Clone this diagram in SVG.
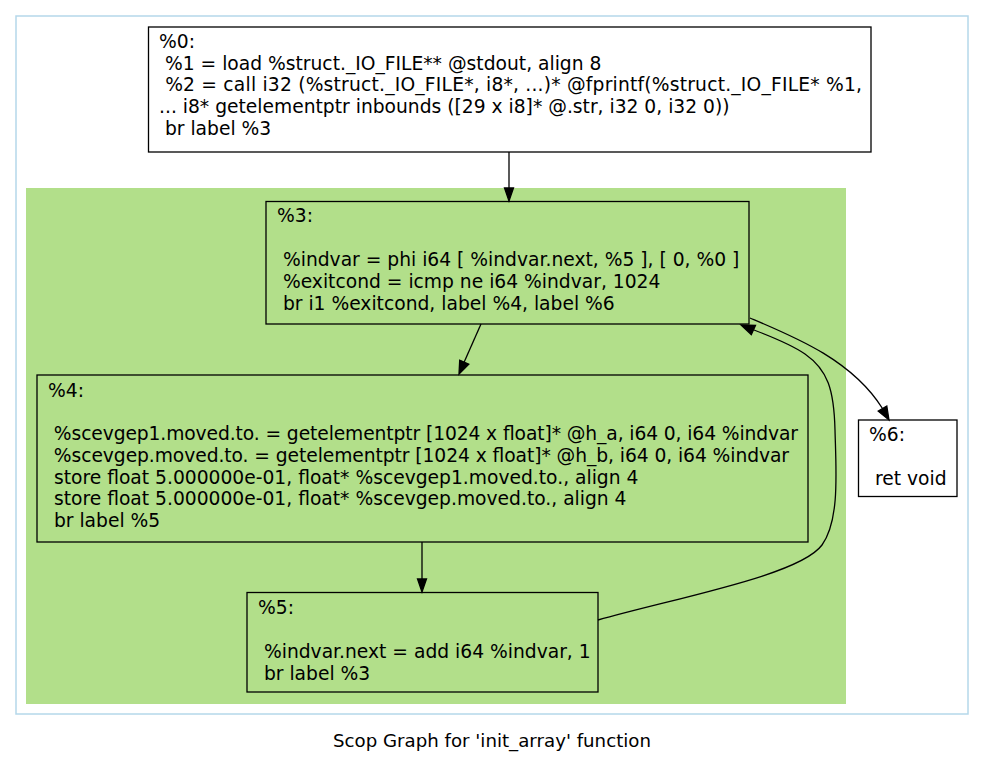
<svg xmlns="http://www.w3.org/2000/svg" width="984" height="764" viewBox="0 0 984 764">
<style>
  text { font-family: "DejaVu Sans", "Liberation Sans", sans-serif; font-size: 18.7px; fill: #000; white-space: pre; }
  text.title { font-size: 18.2px; }
  .box { stroke: #000; stroke-width: 1.3; }
  .white { fill: #fff; }
  .green { fill: #b2df8a; }
  .edge { fill: none; stroke: #000; stroke-width: 1.3; }
  .head { fill: #000; stroke: #000; stroke-width: 1.3; }
</style>
<rect x="0" y="0" width="984" height="764" fill="#fff"/>
<rect x="16" y="16" width="952" height="698" fill="#fff" stroke="#b5d8ea" stroke-width="1.5"/>
<rect id="cluster" x="26" y="188" width="820" height="516" fill="#b2df8a"/>

<g id="node0">
  <rect class="box white" x="148.5" y="27" width="722.5" height="125"/>
  <text x="159" y="48">%0:</text>
  <text x="159" y="70"> %1 = load %struct._IO_FILE** @stdout, align 8</text>
  <text x="159" y="91" textLength="703" lengthAdjust="spacing"> %2 = call i32 (%struct._IO_FILE*, i8*, ...)* @fprintf(%struct._IO_FILE* %1,</text>
  <text x="159" y="113">... i8* getelementptr inbounds ([29 x i8]* @.str, i32 0, i32 0))</text>
  <text x="159" y="135"> br label %3</text>
</g>

<g id="node3">
  <rect class="box green" x="266" y="201.5" width="483" height="122.5"/>
  <text x="277" y="222">%3:</text>
  <text x="277" y="266"> %indvar = phi i64 [ %indvar.next, %5 ], [ 0, %0 ]</text>
  <text x="277" y="288"> %exitcond = icmp ne i64 %indvar, 1024</text>
  <text x="277" y="310"> br i1 %exitcond, label %4, label %6</text>
</g>

<g id="node4">
  <rect class="box green" x="37" y="375" width="771" height="167"/>
  <text x="48" y="397">%4:</text>
  <text x="48" y="440" textLength="750" lengthAdjust="spacing"> %scevgep1.moved.to. = getelementptr [1024 x float]* @h_a, i64 0, i64 %indvar</text>
  <text x="48" y="462" textLength="741" lengthAdjust="spacing"> %scevgep.moved.to. = getelementptr [1024 x float]* @h_b, i64 0, i64 %indvar</text>
  <text x="48" y="484"> store float 5.000000e-01, float* %scevgep1.moved.to., align 4</text>
  <text x="48" y="505"> store float 5.000000e-01, float* %scevgep.moved.to., align 4</text>
  <text x="48" y="527"> br label %5</text>
</g>

<g id="node5">
  <rect class="box green" x="247" y="592.5" width="351" height="99.5"/>
  <text x="258" y="614">%5:</text>
  <text x="258" y="658"> %indvar.next = add i64 %indvar, 1</text>
  <text x="258" y="680"> br label %3</text>
</g>

<g id="node6">
  <rect class="box white" x="858.5" y="420" width="98.5" height="76.5"/>
  <text x="869" y="441">%6:</text>
  <text x="869" y="485"> ret void</text>
</g>

<g id="edges">
  <path class="edge" d="M509,152 L509,188"/>
  <polygon class="head" points="509,201 504.5,188 513.5,188"/>

  <path class="edge" d="M481,324 L464.2,362.1"/>
  <polygon class="head" points="459,374 468.8,364.1 459.7,360.1"/>

  <path class="edge" d="M422,542 L422,579"/>
  <polygon class="head" points="422,592 417.5,579 426.5,579"/>

  <path class="edge" d="M598,620 C680,597 800,575 822,545 C840,520 836,470 835,430 C834,390 828,370 805,354 C792,345 775,338 754,330"/>
  <polygon class="head" points="741,325 755.5,325.4 751.3,334.6"/>

  <path class="edge" d="M750,318 C795,337 852,360 882.5,408.5"/>
  <polygon class="head" points="889,420 886.8,406 878.2,411.2"/>
</g>

<text class="title" x="492" y="747" text-anchor="middle">Scop Graph for 'init_array' function</text>
</svg>
